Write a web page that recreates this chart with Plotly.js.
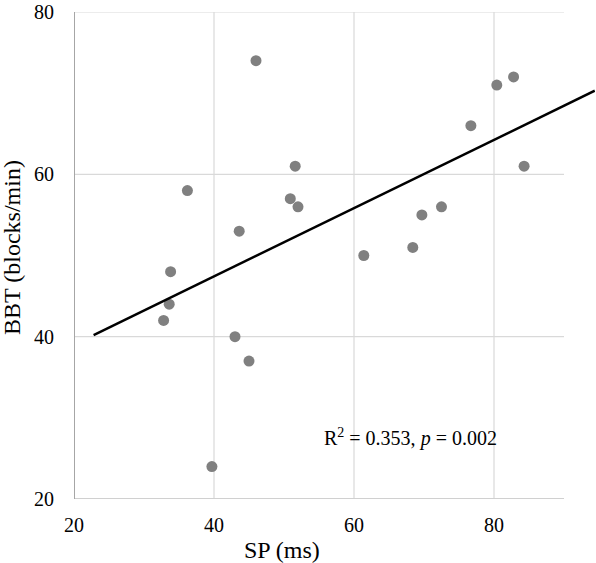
<!DOCTYPE html>
<html>
<head>
<meta charset="utf-8">
<script src="https://cdn.plot.ly/plotly-3.0.1.min.js"></script>
<style>html,body{margin:0;padding:0;background:#fff;}#chart{width:596px;height:563px;}</style>
</head>
<body>
<div id="chart"></div>
<script>
// Data
const spMs = [46.0, 51.6, 36.2, 50.9, 52.0, 43.6, 33.8, 33.6, 32.8, 43.0, 45.0, 39.7, 82.8, 80.4, 76.7, 84.3, 72.5, 69.7, 68.4, 61.4];
const bbt  = [74, 61, 58, 57, 56, 53, 48, 44, 42, 40, 37, 24, 72, 71, 66, 61, 56, 55, 51, 50];
const trendX = [22.8, 94.4];
const trendY = [40.2, 70.3];
const xTicks = [20, 40, 60, 80];
const yTicks = [20, 40, 60, 80];
const statText = 'R<sup>2</sup> = 0.353, <i>p</i> = 0.002';

const font = "'Liberation Serif', 'Times New Roman', serif";
const xMin = 20, xMax = 90, yMin = 20, yMax = 80;

const shapes = [];
xTicks.filter(v => v > xMin).forEach(v => shapes.push({type:'line', xref:'x', yref:'y', x0:v, x1:v, y0:yMin, y1:yMax, line:{color:'#d9d9d9', width:1.2}, layer:'below'}));
yTicks.filter(v => v > yMin).forEach(v => shapes.push({type:'line', xref:'x', yref:'y', x0:xMin, x1:xMax, y0:v, y1:v, line:{color:'#d9d9d9', width:1.2}, layer:'below'}));
shapes.push({type:'line', xref:'x', yref:'y', x0:xMin, x1:xMax, y0:yMin, y1:yMin, line:{color:'#d0d0d0', width:2}, layer:'below'});
shapes.push({type:'line', xref:'x', yref:'y', x0:xMin, x1:xMin, y0:yMin, y1:yMax, line:{color:'#a6a6a6', width:2}, layer:'below'});

const traces = [
  {x: spMs, y: bbt, type:'scatter', mode:'markers', marker:{color:'#808080', size:11}, cliponaxis:false, hoverinfo:'x+y'},
  {x: trendX, y: trendY, type:'scatter', mode:'lines', line:{color:'#000000', width:2.5}, hoverinfo:'skip'}
];

const layout = {
  width: 596, height: 563,
  margin: {l:74, r:1, t:12, b:64},
  paper_bgcolor:'#ffffff', plot_bgcolor:'#ffffff',
  showlegend:false,
  font:{family:font, size:20, color:'#000000'},
  xaxis:{range:[20, 94.43], tickvals:xTicks, ticktext:xTicks.map(String), showgrid:false, zeroline:false, showline:false, ticks:'', ticklabelstandoff:12, ticklabeloverflow:'allow', tickfont:{family:font, size:20, color:'#000'}},
  yaxis:{range:[20, 80], tickvals:yTicks, ticktext:yTicks.map(String), showgrid:false, zeroline:false, showline:false, ticks:'', ticklabelstandoff:19, ticklabeloverflow:'allow', tickfont:{family:font, size:20, color:'#000'}},
  shapes: shapes,
  annotations:[
    {xref:'x', yref:'y', x:68.1, y:27.6, text:statText, showarrow:false, font:{family:font, size:20, color:'#000'}, xanchor:'center', yanchor:'middle'},
    {xref:'paper', yref:'paper', x:(282-74)/521, y:-(550-499)/487, text:'SP (ms)', showarrow:false, font:{family:font, size:24, color:'#000'}, xanchor:'center', yanchor:'middle'},
    {xref:'paper', yref:'paper', x:-(74-12)/521, y:(499-248)/487, text:'BBT (blocks/min)', textangle:-90, showarrow:false, font:{family:font, size:24, color:'#000'}, xanchor:'center', yanchor:'middle'}
  ]
};

Plotly.newPlot('chart', traces, layout, {displayModeBar:false, staticPlot:true});
</script>
</body>
</html>
